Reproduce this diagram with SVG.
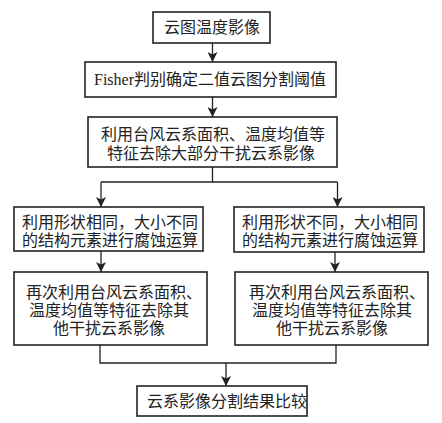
<svg xmlns="http://www.w3.org/2000/svg" width="442" height="423" viewBox="0 0 442 423">
<defs>
<style>
.box{fill:#fff;stroke:#222;stroke-width:1.6}
.ln{fill:none;stroke:#222;stroke-width:1.3}
text{font-family:"Liberation Serif","Noto Sans CJK SC",serif;font-size:16px;fill:#222;text-anchor:middle}
</style>
<marker id="ah" viewBox="0 0 10 10" refX="10" refY="5" markerWidth="10" markerHeight="10" markerUnits="userSpaceOnUse" orient="auto">
<path d="M0,0 L10,5 L0,10 L2.5,5 Z" fill="#222"/>
</marker>
</defs>
<rect width="442" height="423" fill="#fff"/>
<g id="connectors">
<path class="ln" d="M212.5,43 V62" marker-end="url(#ah)"/>
<path class="ln" d="M212.5,97 V117" marker-end="url(#ah)"/>
<path class="ln" d="M212.5,167 V182 M101,182 H337.5"/>
<path class="ln" d="M101,182 V207" marker-end="url(#ah)"/>
<path class="ln" d="M337.5,182 V207" marker-end="url(#ah)"/>
<path class="ln" d="M101,251 V272" marker-end="url(#ah)"/>
<path class="ln" d="M335,252 V272" marker-end="url(#ah)"/>
<path class="ln" d="M100,345 V363 H336 V345 M226,363 V386" marker-end="url(#ah)"/>
</g>
<g id="n1"><rect class="box" x="153" y="12" width="117" height="31"/><text x="212" y="33">云图温度影像</text></g>
<g id="n2"><rect class="box" x="85" y="62" width="251" height="35"/><text x="210" y="85">Fisher判别确定二值云图分割阈值</text></g>
<g id="n3"><rect class="box" x="88" y="117" width="249" height="50"/><text x="213" y="140">利用台风云系面积、温度均值等</text><text x="211" y="159">特征去除大部分干扰云系影像</text></g>
<g id="n4"><rect class="box" x="14" y="207" width="189" height="44"/><text x="110" y="228">利用形状相同，大小不同</text><text x="110" y="246">的结构元素进行腐蚀运算</text></g>
<g id="n5"><rect class="box" x="234" y="207" width="190" height="45"/><text x="330" y="228">利用形状不同，大小相同</text><text x="330" y="246">的结构元素进行腐蚀运算</text></g>
<g id="n6"><rect class="box" x="14" y="272" width="193" height="73"/><text x="114" y="298">再次利用台风云系面积、</text><text x="109" y="316">温度均值等特征去除其</text><text x="109" y="334">他干扰云系影像</text></g>
<g id="n7"><rect class="box" x="235" y="272" width="193" height="73"/><text x="337" y="298">再次利用台风云系面积、</text><text x="332" y="316">温度均值等特征去除其</text><text x="332" y="334">他干扰云系影像</text></g>
<g id="n8"><rect class="box" x="137" y="386" width="170" height="30"/><text x="227" y="407">云系影像分割结果比较</text></g>
</svg>
